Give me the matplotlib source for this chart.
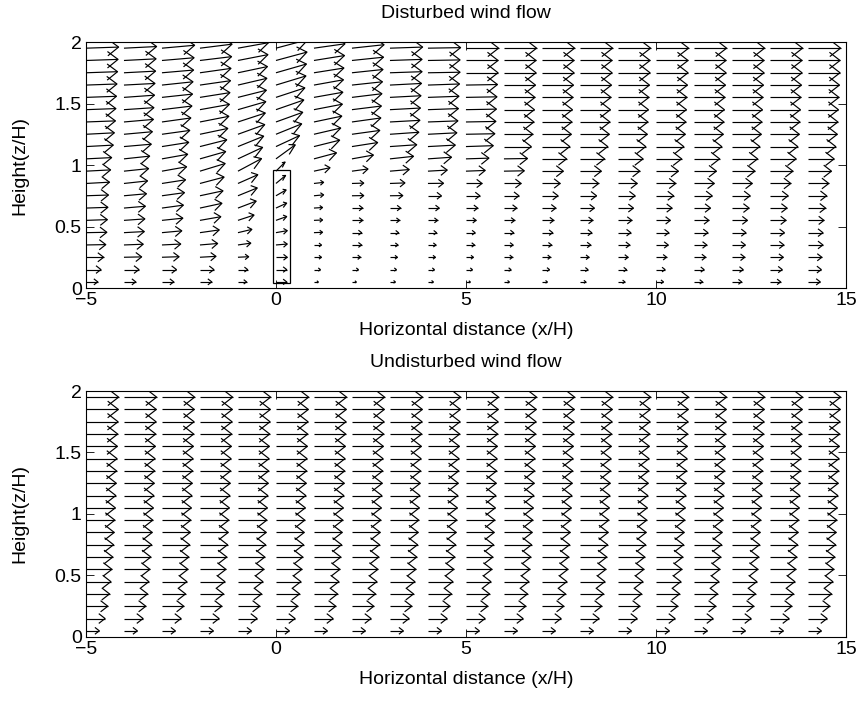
import numpy as np
import matplotlib
matplotlib.use("Agg")
import matplotlib.pyplot as plt
from matplotlib.collections import LineCollection
from matplotlib.patches import Rectangle

plt.rcParams["font.family"] = ["Liberation Sans", "DejaVu Sans"]

# grid (x/H along the ground, z/H up)
x_cols = [-5, -4, -3, -2, -1, 0, 1, 2, 3, 4, 5, 6, 7, 8, 9, 10, 11, 12, 13, 14]
z_rows = [0.05, 0.15, 0.25, 0.35, 0.45, 0.55, 0.65, 0.75, 0.85, 0.95,
          1.05, 1.15, 1.25, 1.35, 1.45, 1.55, 1.65, 1.75, 1.85, 1.95]

# undisturbed profile (same in every column), m/s
u_undist = [2.53, 3.62, 4.14, 4.47, 4.72, 4.92, 5.09, 5.23, 5.36, 5.47,
            5.57, 5.66, 5.75, 5.82, 5.89, 5.96, 6.02, 6.08, 6.14, 6.19]

# disturbed flow, one list per column (bottom -> top), m/s
u_dist = [
    [2.09, 2.66, 3.14, 3.52, 3.71, 3.80, 3.90, 3.99, 4.18, 4.37, 4.56, 4.85, 5.04, 5.23, 5.32, 5.42, 5.51, 5.61, 5.70, 5.80],
    [2.09, 2.66, 3.14, 3.42, 3.61, 3.71, 3.80, 3.99, 4.18, 4.37, 4.56, 4.85, 5.04, 5.23, 5.32, 5.42, 5.51, 5.61, 5.70, 5.80],
    [2.09, 2.57, 3.04, 3.33, 3.52, 3.71, 3.80, 3.99, 4.18, 4.37, 4.56, 4.75, 4.94, 5.13, 5.32, 5.42, 5.51, 5.61, 5.70, 5.80],
    [2.09, 2.47, 2.85, 3.14, 3.42, 3.70, 3.90, 4.09, 4.28, 4.47, 4.56, 4.75, 4.94, 5.13, 5.23, 5.32, 5.42, 5.51, 5.61, 5.70],
    [1.52, 1.71, 1.90, 2.28, 2.47, 2.85, 3.23, 3.42, 3.52, 4.18, 4.37, 4.56, 4.75, 4.85, 4.94, 5.04, 5.13, 5.23, 5.32, 5.42],
    [1.90, 1.90, 2.00, 2.00, 2.00, 1.90, 1.90, 1.80, 1.71, 1.62, 3.42, 4.18, 4.56, 4.75, 4.94, 5.13, 5.32, 5.41, 5.51, 5.70],
    [0.76, 1.14, 1.33, 1.33, 1.52, 1.52, 1.52, 1.71, 1.71, 2.85, 3.99, 4.56, 4.75, 4.94, 5.04, 5.13, 5.23, 5.32, 5.42, 5.51],
    [0.76, 1.14, 1.52, 1.71, 1.71, 1.90, 1.90, 2.09, 2.09, 2.85, 3.80, 4.56, 4.94, 5.13, 5.22, 5.32, 5.41, 5.51, 5.60, 5.70],
    [0.95, 1.14, 1.33, 1.42, 1.52, 1.71, 1.90, 2.28, 2.66, 3.42, 4.18, 4.75, 5.13, 5.32, 5.41, 5.51, 5.60, 5.70, 5.70, 5.80],
    [0.95, 1.14, 1.33, 1.42, 1.52, 1.71, 2.00, 2.38, 2.76, 3.42, 4.18, 4.85, 5.13, 5.32, 5.41, 5.51, 5.60, 5.70, 5.70, 5.80],
    [0.76, 1.14, 1.33, 1.52, 1.62, 1.80, 2.09, 2.47, 2.85, 3.42, 4.08, 4.85, 5.13, 5.32, 5.41, 5.51, 5.60, 5.70, 5.70, 5.80],
    [0.95, 1.24, 1.52, 1.62, 1.71, 1.90, 2.28, 2.66, 3.04, 3.61, 4.18, 4.85, 5.13, 5.32, 5.41, 5.51, 5.60, 5.70, 5.70, 5.80],
    [0.95, 1.33, 1.52, 1.71, 1.90, 2.09, 2.47, 2.85, 3.23, 3.80, 4.37, 4.94, 5.22, 5.32, 5.41, 5.51, 5.60, 5.70, 5.70, 5.80],
    [1.04, 1.42, 1.61, 1.90, 2.09, 2.28, 2.56, 2.94, 3.32, 3.80, 4.37, 4.94, 5.22, 5.32, 5.41, 5.51, 5.60, 5.70, 5.70, 5.80],
    [1.23, 1.52, 1.80, 2.09, 2.28, 2.47, 2.75, 3.04, 3.42, 3.89, 4.46, 4.94, 5.22, 5.32, 5.41, 5.51, 5.60, 5.70, 5.70, 5.80],
    [1.33, 1.61, 1.90, 2.18, 2.28, 2.56, 2.85, 3.13, 3.51, 3.99, 4.56, 4.94, 5.22, 5.32, 5.41, 5.51, 5.60, 5.70, 5.70, 5.80],
    [1.52, 1.80, 2.09, 2.28, 2.47, 2.66, 2.94, 3.23, 3.61, 3.99, 4.56, 4.94, 5.22, 5.32, 5.41, 5.51, 5.60, 5.70, 5.70, 5.80],
    [1.71, 1.99, 2.28, 2.37, 2.47, 2.75, 3.04, 3.23, 3.61, 4.08, 4.56, 4.94, 5.22, 5.32, 5.41, 5.51, 5.60, 5.70, 5.70, 5.80],
    [1.90, 2.18, 2.37, 2.47, 2.56, 2.85, 3.04, 3.23, 3.70, 4.08, 4.65, 4.94, 5.22, 5.32, 5.41, 5.51, 5.60, 5.70, 5.70, 5.80],
    [2.18, 2.37, 2.47, 2.66, 2.66, 2.85, 3.13, 3.32, 3.70, 4.18, 4.65, 4.94, 5.22, 5.32, 5.41, 5.51, 5.60, 5.70, 5.70, 5.80],
]
w_dist = [
    [0, 0, 0, 0.02, 0.02, 0.04, 0.04, 0.04, 0.07, 0.07, 0.07, 0.08, 0.08, 0.06, 0.06, 0.06, 0.06, 0.06, 0.06, 0.06],
    [0, 0, 0.02, 0.04, 0.06, 0.08, 0.10, 0.11, 0.14, 0.14, 0.15, 0.13, 0.14, 0.14, 0.11, 0.12, 0.09, 0.09, 0.09, 0.09],
    [0, 0, 0.03, 0.05, 0.10, 0.12, 0.16, 0.17, 0.20, 0.24, 0.25, 0.23, 0.21, 0.22, 0.20, 0.18, 0.18, 0.15, 0.15, 0.16],
    [0, 0, 0.05, 0.08, 0.15, 0.20, 0.26, 0.27, 0.35, 0.42, 0.40, 0.37, 0.32, 0.31, 0.29, 0.26, 0.24, 0.24, 0.21, 0.22],
    [0, 0, 0.03, 0.10, 0.18, 0.29, 0.38, 0.43, 0.48, 0.69, 0.63, 0.57, 0.53, 0.49, 0.44, 0.39, 0.37, 0.34, 0.32, 0.30],
    [0, 0, 0, 0.05, 0.11, 0.21, 0.27, 0.32, 0.44, 0.50, 0.77, 0.60, 0.57, 0.53, 0.53, 0.52, 0.50, 0.48, 0.46, 0.47],
    [0, 0, 0, 0, 0.02, 0.02, 0.03, 0.05, 0.06, 0.19, 0.33, 0.35, 0.34, 0.32, 0.30, 0.28, 0.29, 0.26, 0.27, 0.24],
    [0, 0, 0, 0, 0, 0, 0, 0.01, 0.02, 0.12, 0.21, 0.22, 0.21, 0.22, 0.20, 0.20, 0.18, 0.18, 0.18, 0.19],
    [0, 0, 0, 0, 0, 0, 0, 0.01, 0.03, 0.09, 0.14, 0.10, 0.11, 0.09, 0.09, 0.09, 0.09, 0.06, 0.06, 0.06],
    [0, 0, 0, 0, 0, 0, 0, 0, 0.01, 0.06, 0.09, 0.08, 0.08, 0.06, 0.06, 0.06, 0.06, 0.03, 0.03, 0.03],
    [0, 0, 0, 0, 0, 0, 0, 0, 0, 0.04, 0.04, 0.05, 0.03, 0.03, 0.03, 0.03, 0.03, 0, 0, 0],
    [0, 0, 0, 0, 0, 0, 0, 0, 0, 0.02, 0.02, 0, 0, 0, 0, 0, 0, 0, 0, 0],
    [0, 0, 0, 0, 0, 0, 0, 0, 0, 0, 0, 0, 0, 0, 0, 0, 0, 0, 0, 0],
    [0, 0, 0, 0, 0, 0, 0, 0, 0, 0, 0, 0, 0, 0, 0, 0, 0, 0, 0, 0],
    [0, 0, 0, 0, 0, 0, 0, 0, 0, 0, 0, 0, 0, 0, 0, 0, 0, 0, 0, 0],
    [0, 0, 0, 0, 0, 0, 0, 0, 0, 0, 0, 0, 0, 0, 0, 0, 0, 0, 0, 0],
    [0, 0, 0, 0, 0, 0, 0, 0, 0, 0, 0, 0, 0, 0, 0, 0, 0, 0, 0, 0],
    [0, 0, 0, 0, 0, 0, 0, 0, 0, 0, 0, 0, 0, 0, 0, 0, 0, 0, 0, 0],
    [0, 0, 0, 0, 0, 0, 0, 0, 0, 0, 0, 0, 0, 0, 0, 0, 0, 0, 0, 0],
    [0, 0, 0, 0, 0, 0, 0, 0, 0, 0, 0, 0, 0, 0, 0, 0, 0, 0, 0, 0],
]

# building outline (x/H, z/H)
bld_x = (-0.08, 0.37)
bld_z = (0.04, 0.96)


def quiver_lines(ax, x, z, U, W):
    """MATLAB-style quiver: auto-scaled line arrows with open heads."""
    X, Z = np.meshgrid(x, z)
    m, n = X.shape
    delx = (X.max() - X.min()) / n
    dely = (Z.max() - Z.min()) / m
    ln = np.sqrt((U ** 2 + W ** 2) / (delx ** 2 + dely ** 2))
    s = 0.9 / ln.max()
    u, v = (U * s).ravel(), (W * s).ravel()
    x0, y0 = X.ravel(), Z.ravel()
    a, b = 0.33, 0.24
    eps = 1e-16
    tx, ty = x0 + u, y0 + v
    segs = []
    for i in range(len(x0)):
        segs.append([(x0[i], y0[i]), (tx[i], ty[i])])
        segs.append([(tx[i] - a * (u[i] + b * (v[i] + eps)), ty[i] - a * (v[i] - b * (u[i] + eps))),
                     (tx[i], ty[i]),
                     (tx[i] - a * (u[i] - b * (v[i] + eps)), ty[i] - a * (v[i] + b * (u[i] + eps)))])
    ax.add_collection(LineCollection(segs, colors="black", linewidths=0.85))


def style(ax, title):
    ax.set_xlim(-5, 15)
    ax.set_ylim(0, 2)
    ax.set_xticks([-5, 0, 5, 10, 15])
    ax.set_yticks([0, 0.5, 1, 1.5, 2])
    ax.set_yticklabels(["0", "0.5", "1", "1.5", "2"])
    ax.tick_params(direction="in", top=True, right=True, length=5.5, width=0.6,
                   labelsize=14, pad=3)
    for sp in ax.spines.values():
        sp.set_linewidth(0.8)
    ax.set_title(title, fontsize=14, pad=17)
    ax.set_xlabel("Horizontal distance (x/H)", fontsize=14, labelpad=9)
    ax.set_ylabel("Height(z/H)", fontsize=14, labelpad=19)


fig = plt.figure(figsize=(8.64, 7.04), dpi=100)
ax1 = fig.add_axes([0.0995, 0.5909, 0.8796, 0.3494])
ax2 = fig.add_axes([0.0995, 0.0952, 0.8796, 0.3494])

Ud = np.array(u_dist, dtype=float).T
Wd = np.array(w_dist, dtype=float).T
quiver_lines(ax1, x_cols, z_rows, Ud, Wd)
ax1.add_patch(Rectangle((bld_x[0], bld_z[0]), bld_x[1] - bld_x[0], bld_z[1] - bld_z[0],
                        fill=False, edgecolor="black", linewidth=0.9))
style(ax1, "Disturbed wind flow")

Uu = np.array([u_undist] * len(x_cols), dtype=float).T
Wu = np.zeros_like(Uu)
quiver_lines(ax2, x_cols, z_rows, Uu, Wu)
style(ax2, "Undisturbed wind flow")

fig.savefig("out.png", dpi=100, facecolor="white")
